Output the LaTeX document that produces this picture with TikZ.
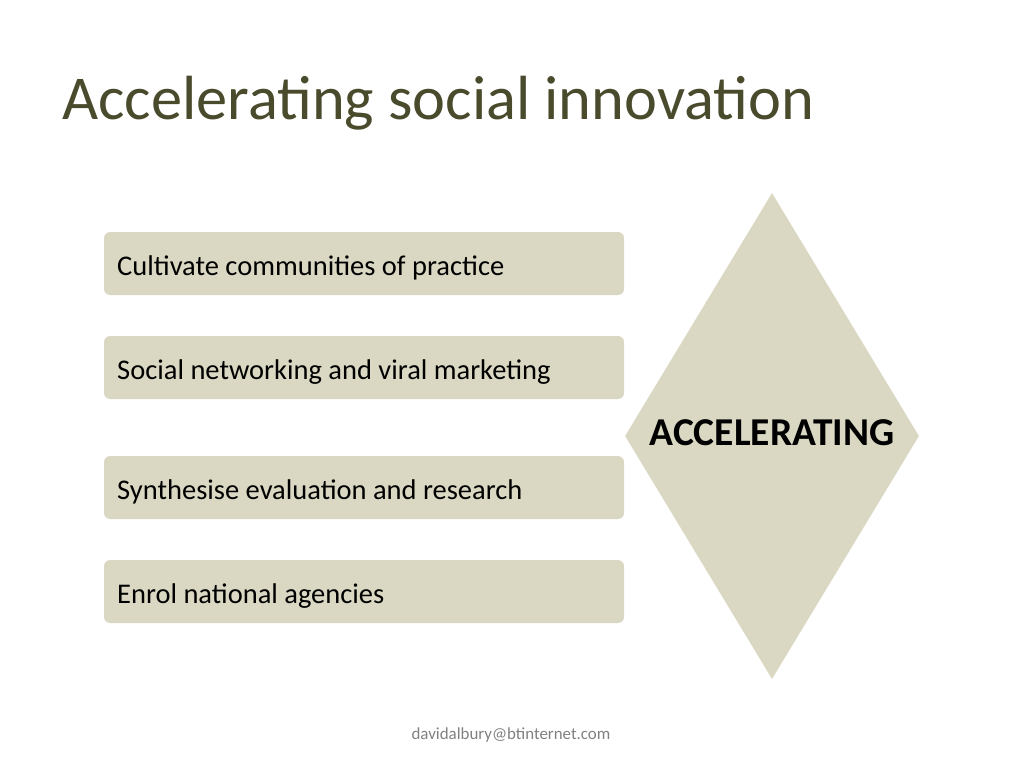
\documentclass[tikz,border=0pt]{standalone}
\usepackage{fontspec}
\setmainfont{Carlito}
\usetikzlibrary{shapes.geometric}
\definecolor{boxfill}{HTML}{DAD8C2}
\definecolor{titlecol}{HTML}{4A4A2C}
\begin{document}
\begin{tikzpicture}[x=1pt,y=-1pt,
    item/.style={fill=boxfill,rounded corners=6pt,minimum width=520pt,minimum height=63pt},
    itemtext/.style={anchor=base west,inner sep=0pt,font=\fontsize{28.5}{34}\selectfont}]
      \useasboundingbox (0,0) rectangle (1024,768);
      \node[anchor=base west,inner sep=0pt,text=titlecol,font=\fontsize{62.4}{72}\selectfont] (t) at (62,119) {Accelerating social innovation};
      \node[diamond,fill=boxfill,minimum width=294pt,minimum height=486pt,inner sep=0pt,aspect=0.6] (acc) at (772,436) {};
      \node[anchor=base,inner sep=0pt,font=\fontsize{39.5}{46}\selectfont\bfseries] (acct) at (772,445.5) {ACCELERATING};
      \node[item] (b1) at (364,263.5) {};
      \node[item] (b2) at (364,367.5) {};
      \node[item] (b3) at (364,487.5) {};
      \node[item] (b4) at (364,591.5) {};
      \node[itemtext] (l1) at (117,275) {Cultivate communities of practice};
      \node[itemtext] (l2) at (117,379) {Social networking and viral marketing};
      \node[itemtext] (l3) at (117,499) {Synthesise evaluation and research};
      \node[itemtext] (l4) at (117,603) {Enrol national agencies};
      \node[anchor=base,inner sep=0pt,text=gray,font=\fontsize{16.9}{20}\selectfont] (f) at (511,739) {davidalbury@btinternet.com};
    \end{tikzpicture}
\end{document}
